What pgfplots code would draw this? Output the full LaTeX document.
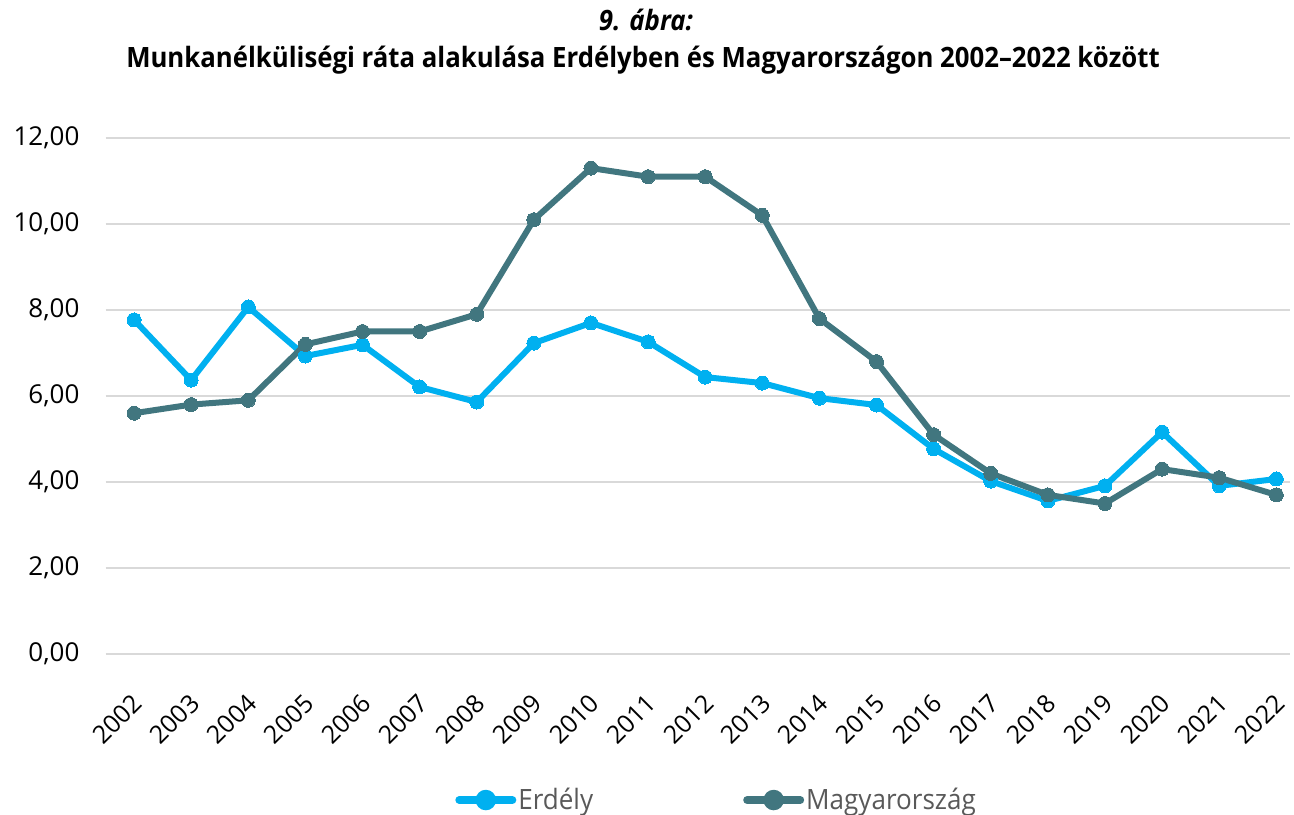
\documentclass[border=0pt]{standalone}
\usepackage{fontspec}
\setmainfont{Open Sans}
\newfontfamily\condfont[FakeStretch=0.92]{Open Sans}
\newfontfamily\legfont[FakeStretch=0.93]{Open Sans}
\usepackage{pgfplots}
\pgfplotsset{compat=1.18}
\definecolor{erd}{HTML}{00B0F0}
\definecolor{mag}{HTML}{41767F}
\definecolor{gridc}{HTML}{D9D9D9}
\definecolor{legtxt}{HTML}{595959}
\begin{document}
\begin{tikzpicture}
\path[use as bounding box] (0,0) rectangle (647pt,407pt);
\node[font=\condfont\bfseries\itshape\fontsize{14}{16}\selectfont] at (323pt,397pt) {9. ábra:};
\node[font=\condfont\bfseries\fontsize{14}{16}\selectfont] at (321.5pt,377pt) {Munkanélküliségi ráta alakulása Erdélyben és Magyarországon 2002–2022 között};
\begin{axis}[
  at={(52.75pt,80pt)}, anchor=south west,
  scale only axis, width=592.25pt, height=258pt,
  xmin=2001.5, xmax=2022.24, ymin=0, ymax=12,
  axis line style={draw=none},
  ytick={0,2,...,12}, xtick=data,
  major tick length=0pt,
  ymajorgrids, grid style={gridc, line width=1pt},
  tick label style={font=\fontsize{13}{15}\selectfont},
  /pgf/number format/assume math mode=true,
  y tick label style={/pgf/number format/fixed, /pgf/number format/fixed zerofill, /pgf/number format/precision=2, /pgf/number format/use comma, xshift=-9.5pt},
  x tick label style={/pgf/number format/1000 sep={}, rotate=45, anchor=north east, xshift=-11pt, yshift=-9pt, font=\fontsize{12.5}{14}\selectfont},
  clip=false,
  legend columns=2,
  legend style={at={(0.295,-0.283)}, anchor=west, draw=none, fill=none, inner xsep=0pt,
    font=\legfont\fontsize{14}{16}\selectfont, text=legtxt,
    nodes={inner xsep=1pt},
    /tikz/every even column/.append style={column sep=74pt}},
  legend image code/.code={\draw[#1, line width=4pt, line cap=round, mark=none] (1.5pt,0pt) -- (28pt,0pt);
     \fill[#1] (14.75pt,0pt) circle (3.6pt);},
]
\addplot[erd, line width=3pt, mark=*, mark size=3.5pt, mark options={solid, line width=0pt}] coordinates {
(2002,7.77) (2003,6.37) (2004,8.07) (2005,6.93) (2006,7.19) (2007,6.21) (2008,5.86)
(2009,7.23) (2010,7.70) (2011,7.26) (2012,6.44) (2013,6.30) (2014,5.95) (2015,5.79)
(2016,4.77) (2017,4.02) (2018,3.56) (2019,3.91) (2020,5.16) (2021,3.91) (2022,4.07)};
\addlegendentry{Erdély}
\addplot[mag, line width=3pt, mark=*, mark size=3.5pt, mark options={solid, line width=0pt}] coordinates {
(2002,5.6) (2003,5.8) (2004,5.9) (2005,7.2) (2006,7.5) (2007,7.5) (2008,7.9)
(2009,10.1) (2010,11.3) (2011,11.1) (2012,11.1) (2013,10.2) (2014,7.8) (2015,6.8)
(2016,5.1) (2017,4.2) (2018,3.7) (2019,3.5) (2020,4.3) (2021,4.1) (2022,3.7)};
\addlegendentry{Magyarország}
\end{axis}
\end{tikzpicture}
\end{document}
